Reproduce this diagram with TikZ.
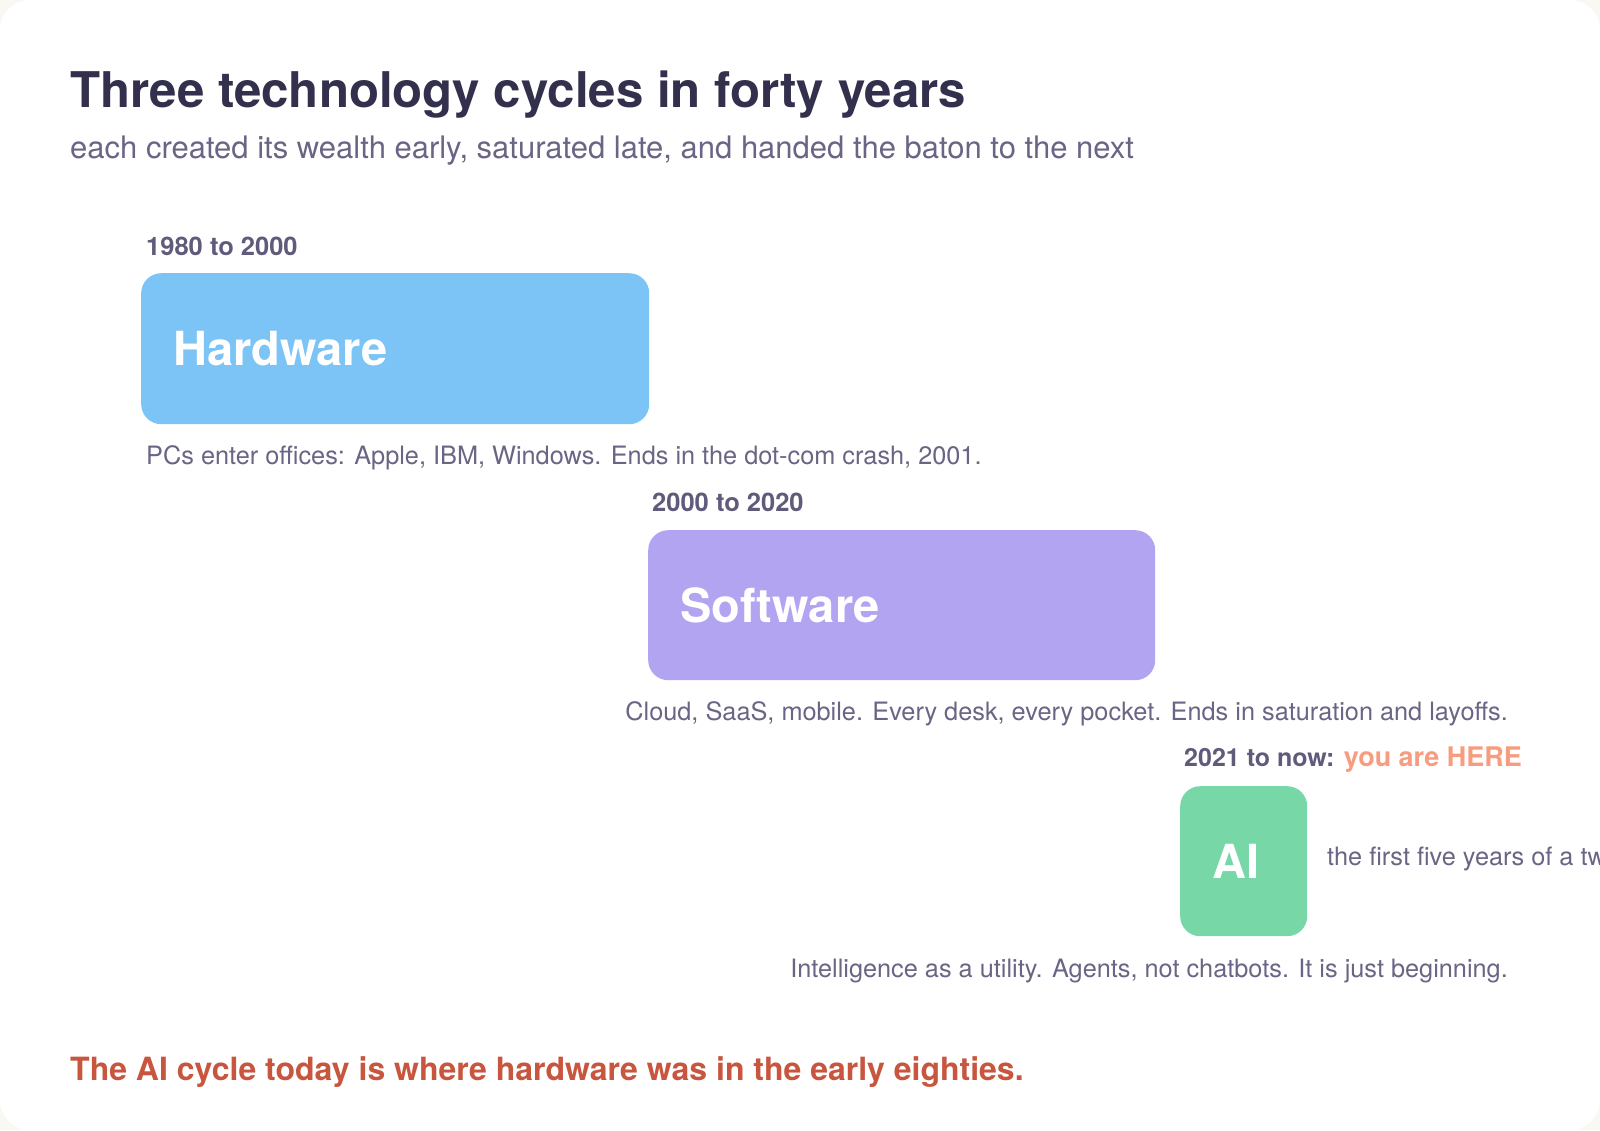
\documentclass[tikz,border=0pt]{standalone}
\usepackage{fontspec}
\setmainfont{TeX Gyre Heros}
\definecolor{cream}{HTML}{FAF8F3}
\definecolor{titlec}{HTML}{33304D}
\definecolor{subc}{HTML}{6A6585}
\definecolor{datec}{HTML}{5F5B7A}
\definecolor{hwc}{HTML}{7CC4F5}
\definecolor{swc}{HTML}{B3A4F1}
\definecolor{aic}{HTML}{77D7A7}
\definecolor{salmon}{HTML}{F89C80}
\definecolor{redc}{HTML}{C8553D}
\tikzset{
  txt/.style={inner sep=0pt, anchor=base west},
  txtr/.style={inner sep=0pt, anchor=base east},
  cyclebox/.style={rounded corners=20pt, inner xsep=32pt, inner ysep=0pt, align=left,
    text=white, font=\fontsize{47}{50}\selectfont\bfseries, anchor=north west},
  datelbl/.style={txt, text=datec, font=\fontsize{25.5}{28}\selectfont\bfseries},
  desc/.style={text=subc, font=\fontsize{25.3}{28}\selectfont},
}
\begin{document}
\begin{tikzpicture}[x=1pt,y=-1pt]
\useasboundingbox (0,0) rectangle (1600,1130);
\fill[cream] (0,0) rectangle (1600,1130);
\fill[white, rounded corners=30pt] (0,0) rectangle (1600,1130);
\begin{scope}
\clip (0,0) rectangle (1600,1130);
\node[txt, text=titlec, font=\fontsize{49.2}{56}\selectfont\bfseries] (title) at (70,107) {Three technology cycles in forty years};
\node[txt, text=subc, font=\fontsize{31}{34}\selectfont] (subtitle) at (70,158) {each created its wealth early, saturated late, and handed the baton to the next};

\node[datelbl] (d1) at (146,255) {1980 to 2000};
\node[cyclebox, fill=hwc, text width=444pt, minimum height=151pt] (hw) at (141,273) {Hardware};
\node[desc, txt] (hwd) at (146,464) {PCs enter offices: Apple, IBM, Windows. Ends in the dot-com crash, 2001.};

\node[datelbl] (d2) at (652,511) {2000 to 2020};
\node[cyclebox, fill=swc, text width=443pt, minimum height=150pt] (sw) at (648,530) {Software};
\node[desc, txtr] (swd) at (1508,720) {Cloud, SaaS, mobile. Every desk, every pocket. Ends in saturation and layoffs.};

\node[datelbl, font=\fontsize{25}{28}\selectfont\bfseries] (d3) at (1184,766) {2021 to now: \textcolor{salmon}{\fontsize{27}{30}\selectfont you are HERE}};
\node[cyclebox, fill=aic, text width=63pt, minimum height=150pt] (ai) at (1180,786) {AI};
\node[desc, txt] (ainote) at (1327,865) {the first five years of a twenty-year cycle};
\node[desc, txtr] (aid) at (1508,977) {Intelligence as a utility. Agents, not chatbots. It is just beginning.};

\node[txt, text=redc, font=\fontsize{32}{34}\selectfont\bfseries] (bottom) at (70,1080) {The AI cycle today is where hardware was in the early eighties.};
\end{scope}
\end{tikzpicture}
\end{document}
